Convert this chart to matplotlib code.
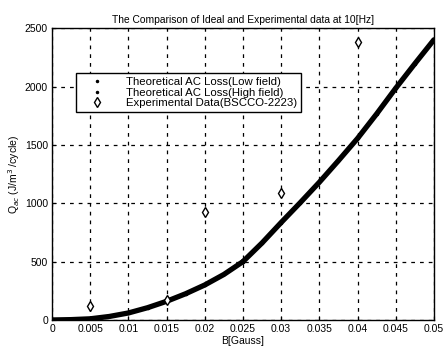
import numpy as np
import matplotlib
matplotlib.use('Agg')
import matplotlib.pyplot as plt

plt.rcParams['font.family'] = ['Liberation Sans', 'DejaVu Sans']
plt.rcParams['font.size'] = 7.5

# theoretical curve
b_low = [0.0, 0.0025, 0.005, 0.0075, 0.01, 0.0125, 0.015, 0.0175, 0.02, 0.0225, 0.025]
q_low = [0, 3, 10, 30, 60, 105, 160, 225, 300, 390, 500]
b_high = [0.025, 0.0275, 0.03, 0.0325, 0.035, 0.0375, 0.04, 0.0425, 0.045, 0.0475, 0.05]
q_high = [500, 660, 835, 1005, 1180, 1365, 1555, 1765, 1985, 2195, 2400]

# experimental points
b_exp = [0.005, 0.015, 0.02, 0.03, 0.04]
q_exp = [123, 175, 922, 1090, 2383]

fig = plt.figure(figsize=(4.45, 3.52), dpi=100)
ax = fig.add_axes([0.117, 0.091, 0.858, 0.829])

ax.plot(b_low, q_low, 'k-', lw=3.8, solid_capstyle='round')
ax.plot(b_high, q_high, 'k-', lw=3.8, solid_capstyle='round')
ax.plot(b_low, q_low, 'k.', ms=3, label='Theoretical AC Loss(Low field)')
ax.plot(b_high, q_high, 'k.', ms=3, label='Theoretical AC Loss(High field)')
ax.plot(b_exp, q_exp, 'kd', mfc='white', ms=5, mew=1.0, label='Experimental Data(BSCCO-2223)')

ax.set_xlim(0, 0.05)
ax.set_ylim(0, 2500)
ax.set_xticks(np.arange(0, 0.0501, 0.005))
ax.set_xticklabels(['0', '0.005', '0.01', '0.015', '0.02', '0.025', '0.03',
                    '0.035', '0.04', '0.045', '0.05'])
ax.set_yticks([0, 500, 1000, 1500, 2000, 2500])
ax.tick_params(direction='in', length=3, pad=3)
ax.grid(True, color='k', linestyle=(0, (3, 4)), linewidth=0.9)
for s in ax.spines.values():
    s.set_linewidth(1.0)

ax.set_title('The Comparison of Ideal and Experimental data at 10[Hz]', fontsize=7.4, pad=4)
ax.set_xlabel('B[Gauss]', fontsize=7.5, labelpad=1)
ax.set_ylabel(r'Q$_{ac}$ (J/m$^3$ /cycle)', fontsize=7.5, labelpad=2)

leg = ax.legend(loc='upper left', bbox_to_anchor=(0.048, 0.865), fontsize=8.2,
                frameon=True, fancybox=False, edgecolor='k', framealpha=1,
                handlelength=3.0, handletextpad=1.0, borderpad=0.35, labelspacing=0.05)
leg.get_frame().set_linewidth(1.0)

fig.savefig('out.png', dpi=100)
